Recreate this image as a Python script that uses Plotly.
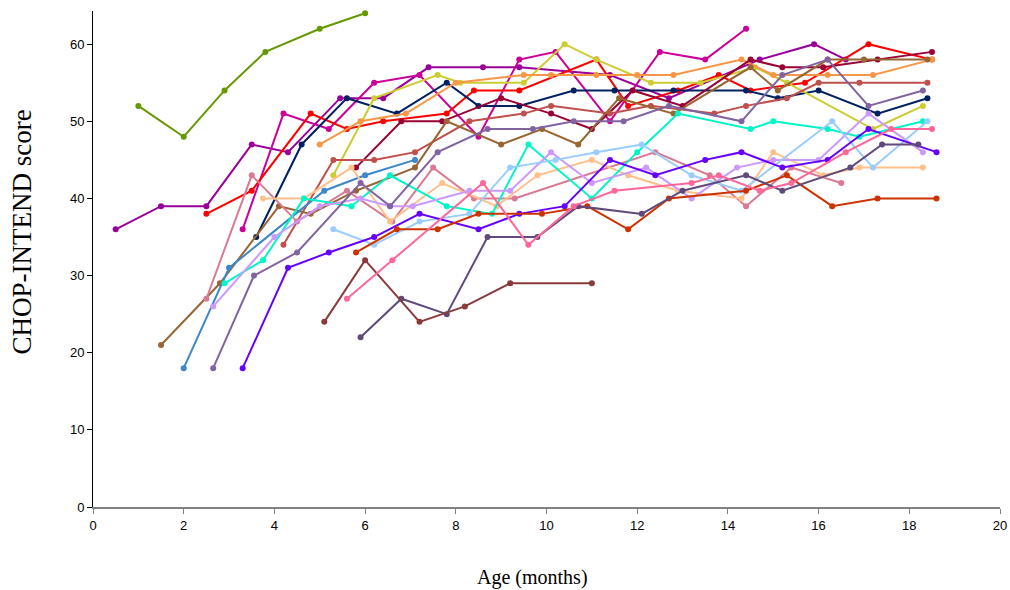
import plotly.graph_objects as go

# ---- data (age in months, CHOP-INTEND score) ----
olive_x = [1, 2, 2.9, 3.8, 5, 6]
olive_y = [52, 48, 54, 59, 62, 64]

purple_x = [0.5, 1.5, 2.5, 3.5, 4.3, 5.45, 6.4, 7.4, 8.6, 9.4, 11.4, 12.7, 14.7, 15.9, 16.6]
purple_y = [36, 39, 39, 47, 46, 53, 53, 57, 57, 57, 56, 53, 58, 60, 58]

magenta_x = [3.3, 4.2, 5.2, 6.2, 7.2, 8.5, 9.4, 10.2, 11.4, 12.5, 13.5, 14.4]
magenta_y = [36, 51, 49, 55, 56, 48, 58, 59, 50, 59, 58, 62]

red_x = [2.5, 3.5, 4.8, 5.6, 6.4, 7.8, 8.4, 9.4, 11.1, 11.8, 12.9, 13.8, 14.5, 15.7, 17.1, 18.5]
red_y = [38, 41, 51, 49, 50, 51, 54, 54, 58, 52, 54, 56, 54, 55, 60, 58]

navy_x = [3.6, 4.6, 5.6, 6.7, 7.8, 8.5, 9.4, 10.6, 11.5, 12.8, 14.4, 15.1, 16.0, 17.3, 18.4]
navy_y = [35, 47, 53, 51, 55, 52, 52, 54, 54, 54, 54, 53, 54, 51, 53]

yellow_x = [5.3, 6.2, 7.6, 8.1, 9.5, 10.4, 11.1, 12.3, 13.4, 14.6, 15.3, 17.2, 18.3]
yellow_y = [43, 53, 56, 55, 55, 60, 58, 55, 55, 57, 55, 49, 52]

orange_x = [5, 5.9, 6.9, 8, 9.5, 10.1, 11.1, 12, 12.8, 14.3, 15, 16.2, 17.2, 18.5]
orange_y = [47, 50, 51, 55, 56, 56, 56, 56, 56, 58, 56, 56, 56, 58]

crimson_x = [5.8, 6.8, 7.7, 9, 10.1, 11, 11.9, 13, 14.5, 15.2, 16.1, 17.3, 18.5]
crimson_y = [44, 50, 50, 53, 51, 49, 54, 52, 58, 57, 57, 58, 59]

brickred_x = [4.2, 5.3, 6.2, 7.1, 8.3, 9.5, 10.1, 11.4, 12.3, 13.7, 14.4, 15.3, 16, 16.9, 18.4]
brickred_y = [34, 45, 45, 46, 50, 51, 52, 51, 52, 51, 52, 53, 55, 55, 55]

brown_x = [1.5, 2.8, 4.1, 4.8, 5.8, 7.1, 7.8, 9, 9.9, 10.7, 11.6, 12.8, 14.5, 15.1, 16.2, 17, 18.4]
brown_y = [21, 29, 39, 38, 41, 44, 50, 47, 49, 47, 53, 51, 57, 54, 58, 58, 58]

blue_x = [2, 3, 5.1, 6, 7.1]
blue_y = [18, 31, 41, 43, 45]

rose_x = [2.5, 3.5, 4.5, 5.6, 6.6, 7.5, 8.4, 9.3, 12.4, 13.6, 14.4, 15.4, 16.5]
rose_y = [27, 43, 37, 41, 37, 44, 40, 40, 46, 43, 39, 44, 42]

peach_x = [3.75, 4.65, 5.7, 6.55, 7.7, 8.9, 9.8, 11, 11.8, 12.9, 14.3, 15, 16.1, 16.9, 18.3]
peach_y = [40, 40, 44, 37, 42, 39, 43, 45, 43, 41, 40, 46, 43, 44, 44]

turq_x = [2.9, 3.75, 4.65, 5.7, 6.55, 7.8, 8.8, 9.6, 11, 12, 12.9, 14.5, 15, 16.2, 16.9, 18.3]
turq_y = [29, 32, 40, 39, 43, 39, 38, 47, 40, 46, 51, 49, 50, 49, 48, 50]

lavender_x = [2.65, 4, 5, 5.9, 6.55, 7.05, 8.3, 9.2, 10.1, 11, 12.2, 13.2, 14.2, 15, 16, 17.1, 18.3]
lavender_y = [26, 35, 39, 40, 39, 39, 41, 41, 46, 42, 44, 40, 44, 45, 45, 51, 46]

lightblue_x = [5.3, 6.2, 7.2, 8.3, 9.2, 10.2, 11.1, 12.1, 13.2, 14.3, 16.3, 17.2, 18.4]
lightblue_y = [36, 34, 37, 38, 44, 45, 46, 47, 43, 41, 50, 44, 50]

violet_x = [3.3, 4.3, 5.2, 6.2, 7.2, 8.5, 9.4, 10.4, 11.4, 12.4, 13.5, 14.3, 15.2, 16.2, 17.1, 18.6]
violet_y = [18, 31, 33, 35, 38, 36, 38, 39, 45, 43, 45, 46, 44, 45, 49, 46]

darkorange_x = [5.8, 6.7, 7.6, 8.5, 9.9, 10.9, 11.8, 12.7, 14.4, 15.3, 16.3, 17.3, 18.6]
darkorange_y = [33, 36, 36, 38, 38, 39, 36, 40, 41, 43, 39, 40, 40]

grape_x = [5.9, 6.8, 7.8, 8.7, 9.8, 10.7, 12.1, 13, 14.4, 15.2, 16.7, 17.4, 18.2]
grape_y = [22, 27, 25, 35, 35, 39, 38, 41, 43, 41, 44, 47, 47]

maroon_x = [5.1, 6, 7.2, 8.2, 9.2, 11]
maroon_y = [24, 32, 24, 26, 29, 29]

hotpink_x = [5.6, 6.6, 8.6, 9.6, 10.6, 11.5, 13.2, 13.8, 14.7, 15.4, 16.6, 17.6, 18.5]
hotpink_y = [27, 32, 42, 34, 39, 41, 42, 43, 41, 42, 46, 49, 49]

medpurple_x = [2.65, 3.55, 4.5, 5.9, 6.55, 7.6, 8.7, 9.7, 10.6, 11.7, 12.7, 14.3, 15.2, 16.2, 17.1, 18.3]
medpurple_y = [18, 30, 33, 42, 39, 46, 49, 49, 50, 50, 52, 50, 56, 58, 52, 54]

x_ticks = [0, 2, 4, 6, 8, 10, 12, 14, 16, 18, 20]
y_ticks = [0, 10, 20, 30, 40, 50, 60]

series = [
    ("Patient 1", olive_x, olive_y, "#669900"),
    ("Patient 2", purple_x, purple_y, "#990099"),
    ("Patient 3", magenta_x, magenta_y, "#CC0099"),
    ("Patient 4", red_x, red_y, "#FF0000"),
    ("Patient 5", navy_x, navy_y, "#002060"),
    ("Patient 6", yellow_x, yellow_y, "#CCCC33"),
    ("Patient 7", orange_x, orange_y, "#F79646"),
    ("Patient 8", crimson_x, crimson_y, "#990033"),
    ("Patient 9", brickred_x, brickred_y, "#C0504D"),
    ("Patient 10", brown_x, brown_y, "#996633"),
    ("Patient 11", blue_x, blue_y, "#3B87C8"),
    ("Patient 12", rose_x, rose_y, "#DA7A92"),
    ("Patient 13", peach_x, peach_y, "#FFC08A"),
    ("Patient 14", turq_x, turq_y, "#00F5C8"),
    ("Patient 15", lavender_x, lavender_y, "#CC99FF"),
    ("Patient 16", lightblue_x, lightblue_y, "#99CCFF"),
    ("Patient 17", violet_x, violet_y, "#6600FF"),
    ("Patient 18", darkorange_x, darkorange_y, "#CC3300"),
    ("Patient 19", grape_x, grape_y, "#604A7B"),
    ("Patient 20", maroon_x, maroon_y, "#8B3A3A"),
    ("Patient 21", hotpink_x, hotpink_y, "#FF6699"),
    ("Patient 22", medpurple_x, medpurple_y, "#8064A2"),
]

fig = go.Figure()
for name, xs, ys, col in series:
    fig.add_trace(go.Scatter(
        x=xs, y=ys, name=name, mode="lines+markers",
        line=dict(color=col, width=2),
        marker=dict(color=col, size=6),
        showlegend=False, cliponaxis=False,
    ))

fig.update_layout(
    width=1010, height=590,
    margin=dict(l=93, r=10, t=11, b=83),
    paper_bgcolor="white", plot_bgcolor="white",
    font=dict(family="Liberation Sans, Arial, sans-serif", size=13, color="black"),
)
fig.update_xaxes(
    range=[0, 20], tickvals=x_ticks, ticktext=[str(v) for v in x_ticks],
    showgrid=False, zeroline=False, showline=True, linecolor="#808080", linewidth=2,
    ticks="outside", ticklen=5, tickcolor="#808080", automargin=False,
    tickfont=dict(family="Liberation Sans Narrow, Arial Narrow, Liberation Sans", size=13),
)
fig.update_yaxes(
    range=[0, 64.3], tickvals=y_ticks, ticktext=[str(v) for v in y_ticks],
    showgrid=False, zeroline=False, showline=True, linecolor="black", linewidth=1,
    ticks="outside", ticklen=5, tickcolor="black", automargin=False,
    tickfont=dict(family="Liberation Sans, Arial", size=13),
)
fig.add_annotation(
    text="CHOP-INTEND score", textangle=-90, xref="paper", yref="paper",
    x=-0.078, y=0.554, xanchor="center", yanchor="middle", showarrow=False,
    font=dict(family="Liberation Serif, Times New Roman, serif", size=27, color="black"),
)
fig.add_annotation(
    text="Age (months)", xref="paper", yref="paper",
    x=0.485, y=-0.143, xanchor="center", yanchor="middle", showarrow=False,
    font=dict(family="Liberation Serif, Times New Roman, serif", size=20, color="black"),
)

fig.write_html(
    "out.html",
    config={"displayModeBar": False},
    post_script="document.body.style.margin='0';document.body.style.overflow='hidden';",
)
